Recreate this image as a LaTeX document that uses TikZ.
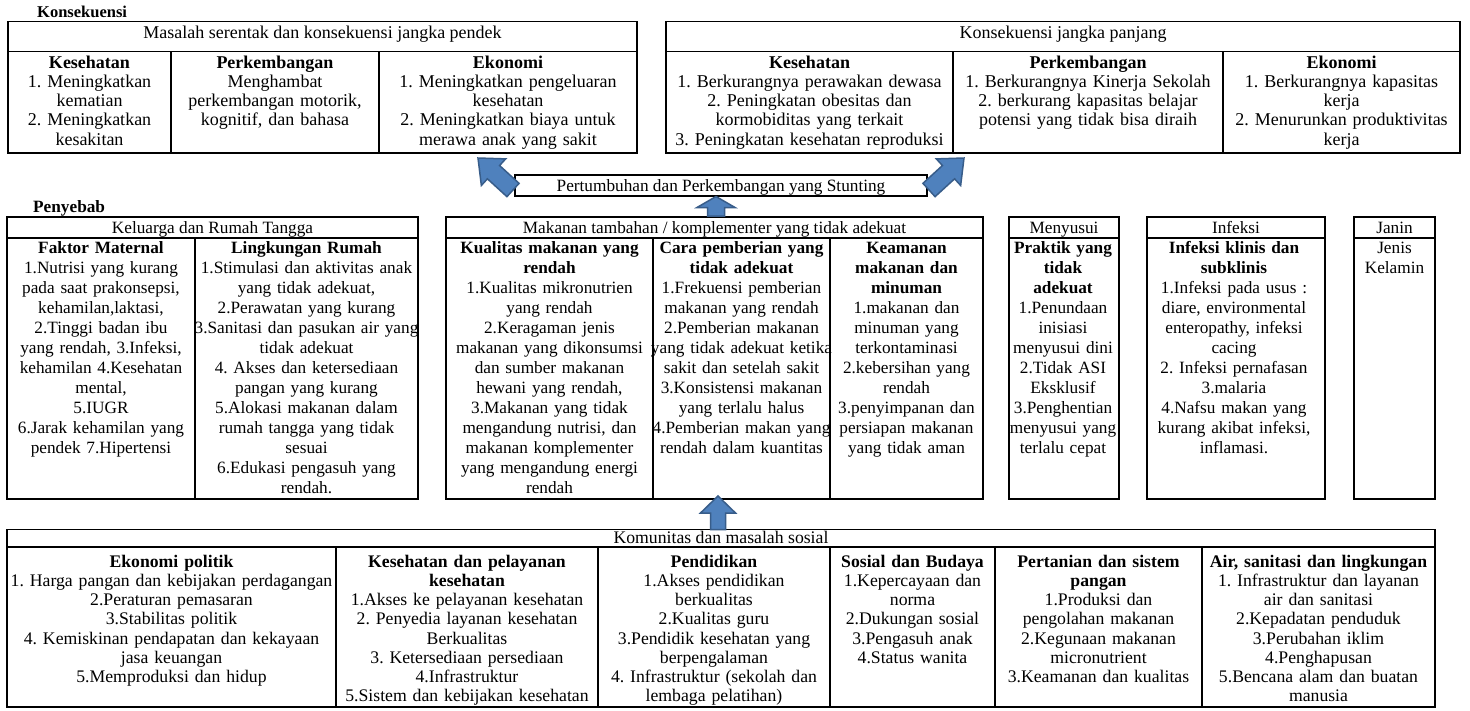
\documentclass[tikz,border=0pt]{standalone}
\usepackage{fontspec}
\setmainfont{Liberation Serif}
\usetikzlibrary{calc}
\frenchspacing
\definecolor{arrowfill}{RGB}{79,129,189}
\definecolor{arrowline}{RGB}{56,93,138}
\newcommand\ftop{\frenchspacing\fontsize{18pt}{19.2pt}\selectfont}
\newcommand\fmid{\frenchspacing\fontsize{17.25pt}{20pt}\selectfont}
\newcommand\fbot{\frenchspacing\fontsize{17.7pt}{19.2pt}\selectfont}
\newcommand\blockarrow[5]{% tail, tip, head length, head half width, shaft half width
  \coordinate (#1-h) at ($(#2)!#3pt!(#1)$);
  \draw[barrow] ($(#1)!#5pt!90:(#2)$) -- ($(#1-h)!#5pt!90:(#2)$) -- ($(#1-h)!#4pt!90:(#2)$) -- (#2)
    -- ($(#1-h)!#4pt!-90:(#2)$) -- ($(#1-h)!#5pt!-90:(#2)$) -- ($(#1)!#5pt!-90:(#2)$) -- cycle;}
\tikzset{
  frame/.style={draw=black, line width=1.2pt},
  lbl/.style={anchor=base, inner sep=0pt},
  celltop/.style={anchor=north, align=center, inner sep=0pt, text width=#1, font=\ftop},
  cellmid/.style={anchor=north, align=center, inner sep=0pt, text width=#1, font=\fmid},
  cellbot/.style={anchor=north, align=center, inner sep=0pt, text width=#1, font=\fbot},
  barrow/.style={fill=arrowfill, draw=arrowline, line width=1.5pt, line join=miter}
}
\begin{document}
\begin{tikzpicture}[x=1pt,y=-1pt]
\useasboundingbox[fill=white] (0,0) rectangle (1470,710);

% ---------------- Konsekuensi ----------------
\node[lbl, anchor=base west, font=\fontsize{16.5pt}{18pt}\selectfont\bfseries] (konsek) at (37,17) {Konsekuensi};

% short term box
\draw[frame] (8,21.7) rectangle (637,153);
\draw[frame] (8,51.7) -- (637,51.7);
\draw[frame] (171,51.7) -- (171,153);
\draw[frame] (379,51.7) -- (379,153);
\node[lbl, font=\ftop] (shortH) at (322.5,38.5) {Masalah serentak dan konsekuensi jangka pendek};
\node[celltop=190pt] (s1) at (89.5,54.6) {\strut\textbf{Kesehatan}\\1. Meningkatkan\\kematian\\2. Meningkatkan\\kesakitan};
\node[celltop=230pt] (s2) at (275,54.6) {\strut\textbf{Perkembangan}\\Menghambat\\perkembangan motorik,\\kognitif, dan bahasa};
\node[celltop=290pt] (s3) at (508,54.6) {\strut\textbf{Ekonomi}\\1. Meningkatkan pengeluaran\\kesehatan\\2. Meningkatkan biaya untuk\\merawa anak yang sakit};

% long term box
\draw[frame] (666,21.7) rectangle (1460,153);
\draw[frame] (666,51.7) -- (1460,51.7);
\draw[frame] (953,51.7) -- (953,153);
\draw[frame] (1223,51.7) -- (1223,153);
\node[lbl, font=\ftop] (longH) at (1063,38.5) {Konsekuensi jangka panjang};
\node[celltop=320pt] (l1) at (809.5,54.6) {\strut\textbf{Kesehatan}\\1. Berkurangnya perawakan dewasa\\2. Peningkatan obesitas dan\\kormobiditas yang terkait\\3. Peningkatan kesehatan reproduksi};
\node[celltop=300pt] (l2) at (1088,54.6) {\strut\textbf{Perkembangan}\\1. Berkurangnya Kinerja Sekolah\\2. berkurang kapasitas belajar\\potensi yang tidak bisa diraih};
\node[celltop=270pt] (l3) at (1341.5,54.6) {\strut\textbf{Ekonomi}\\1. Berkurangnya kapasitas\\kerja\\2. Menurunkan produktivitas\\kerja};

% ---------------- Stunting ----------------
\draw[frame] (515,175) rectangle (927,196);
\node[lbl, font=\fmid] (stunt) at (721,191) {Pertumbuhan dan Perkembangan yang Stunting};

% ---------------- Penyebab ----------------
\node[lbl, anchor=base west, font=\fmid\bfseries] (penyebab) at (33,212) {Penyebab};

% Keluarga
\draw[frame] (7,217) rectangle (418,499);
\draw[frame] (7,238) -- (418,238);
\draw[frame] (195,238) -- (195,499);
\node[lbl, font=\fmid] (kelH) at (212.5,233.5) {Keluarga dan Rumah Tangga};
\node[cellmid=210pt] (k1) at (101,239.5) {\strut\textbf{Faktor Maternal}\\1.Nutrisi yang kurang\\pada saat prakonsepsi,\\kehamilan,laktasi,\\2.Tinggi badan ibu\\yang rendah, 3.Infeksi,\\kehamilan 4.Kesehatan\\mental,\\5.IUGR\\6.Jarak kehamilan yang\\pendek 7.Hipertensi};
\node[cellmid=250pt] (k2) at (306.5,239.5) {\strut\textbf{Lingkungan Rumah}\\1.Stimulasi dan aktivitas anak\\yang tidak adekuat,\\2.Perawatan yang kurang\\3.Sanitasi dan pasukan air yang\\tidak adekuat\\4. Akses dan ketersediaan\\pangan yang kurang\\5.Alokasi makanan dalam\\rumah tangga yang tidak\\sesuai\\6.Edukasi pengasuh yang\\rendah.};

% Makanan
\draw[frame] (446,217) rectangle (983,499);
\draw[frame] (446,238) -- (983,238);
\draw[frame] (653,238) -- (653,499);
\draw[frame] (830,238) -- (830,499);
\node[lbl, font=\fmid] (makH) at (714.5,233.5) {Makanan tambahan / komplementer yang tidak adekuat};
\node[cellmid=230pt] (m1) at (549.5,239.5) {\strut\textbf{Kualitas makanan yang}\\\textbf{rendah}\\1.Kualitas mikronutrien\\yang rendah\\2.Keragaman jenis\\makanan yang dikonsumsi\\dan sumber makanan\\hewani yang rendah,\\3.Makanan yang tidak\\mengandung nutrisi, dan\\makanan komplementer\\yang mengandung energi\\rendah};
\node[cellmid=200pt] (m2) at (741.5,239.5) {\strut\textbf{Cara pemberian yang}\\\textbf{tidak adekuat}\\1.Frekuensi pemberian\\makanan yang rendah\\2.Pemberian makanan\\yang tidak adekuat ketika\\sakit dan setelah sakit\\3.Konsistensi makanan\\yang terlalu halus\\4.Pemberian makan yang\\rendah dalam kuantitas};
\node[cellmid=180pt] (m3) at (906.5,239.5) {\strut\textbf{Keamanan}\\\textbf{makanan dan}\\\textbf{minuman}\\1.makanan dan\\minuman yang\\terkontaminasi\\2.kebersihan yang\\rendah\\3.penyimpanan dan\\persiapan makanan\\yang tidak aman};

% Menyusui
\draw[frame] (1009,217) rectangle (1119,499);
\draw[frame] (1009,238) -- (1119,238);
\node[lbl, font=\fmid] (menH) at (1064,233.5) {Menyusui};
\node[cellmid=140pt] (n1) at (1063,239.5) {\strut\textbf{Praktik yang}\\\textbf{tidak}\\\textbf{adekuat}\\1.Penundaan\\inisiasi\\menyusui dini\\2.Tidak ASI\\Eksklusif\\3.Penghentian\\menyusui yang\\terlalu cepat};

% Infeksi
\draw[frame] (1147,217) rectangle (1325,499);
\draw[frame] (1147,238) -- (1325,238);
\node[lbl, font=\fmid] (infH) at (1236,233.5) {Infeksi};
\node[cellmid=200pt] (i1) at (1234,239.5) {\strut\textbf{Infeksi klinis dan}\\\textbf{subklinis}\\1.Infeksi pada usus :\\diare, environmental\\enteropathy, infeksi\\cacing\\2. Infeksi pernafasan\\3.malaria\\4.Nafsu makan yang\\kurang akibat infeksi,\\inflamasi.};

% Janin
\draw[frame] (1354,217) rectangle (1435,499);
\draw[frame] (1354,238) -- (1435,238);
\node[lbl, font=\fmid] (janH) at (1394.5,233.5) {Janin};
\node[cellmid=100pt] (j1) at (1394.5,239.5) {\strut Jenis\\Kelamin};

% ---------------- Komunitas ----------------
\draw[frame] (7,529.5) rectangle (1435,707);
\draw[frame] (7,547) -- (1435,547);
\foreach \xx in {336,598,830,995,1202} \draw[frame] (\xx,547) -- (\xx,707);
\node[lbl, font=\fbot] (komH) at (721,543.3) {Komunitas dan masalah sosial};
\node[cellbot=360pt] (b1) at (171.5,553.6) {\strut\textbf{Ekonomi politik}\\1. Harga pangan dan kebijakan perdagangan\\2.Peraturan pemasaran\\3.Stabilitas politik\\4. Kemiskinan pendapatan dan kekayaan\\jasa keuangan\\5.Memproduksi dan hidup};
\node[cellbot=290pt] (b2) at (467,553.6) {\strut\textbf{Kesehatan dan pelayanan}\\\textbf{kesehatan}\\1.Akses ke pelayanan kesehatan\\2. Penyedia layanan kesehatan\\Berkualitas\\3. Ketersediaan persediaan\\4.Infrastruktur\\5.Sistem dan kebijakan kesehatan};
\node[cellbot=260pt] (b3) at (714,553.6) {\strut\textbf{Pendidikan}\\1.Akses pendidikan\\berkualitas\\2.Kualitas guru\\3.Pendidik kesehatan yang\\berpengalaman\\4. Infrastruktur (sekolah dan\\lembaga pelatihan)};
\node[cellbot=190pt] (b4) at (912.5,553.6) {\strut\textbf{Sosial dan Budaya}\\1.Kepercayaan dan\\norma\\2.Dukungan sosial\\3.Pengasuh anak\\4.Status wanita};
\node[cellbot=230pt] (b5) at (1098.5,553.6) {\strut\textbf{Pertanian dan sistem}\\\textbf{pangan}\\1.Produksi dan\\pengolahan makanan\\2.Kegunaan makanan\\micronutrient\\3.Keamanan dan kualitas};
\node[cellbot=260pt] (b6) at (1318.5,553.6) {\strut\textbf{Air, sanitasi dan lingkungan}\\1. Infrastruktur dan layanan\\air dan sanitasi\\2.Kepadatan penduduk\\3.Perubahan iklim\\4.Penghapusan\\5.Bencana alam dan buatan\\manusia};

% ---------------- Arrows ----------------
\coordinate (aLt) at (513,190);
\coordinate (aLp) at (478,158);
\coordinate (aRt) at (929,190);
\coordinate (aRp) at (964,158);
\coordinate (aMt) at (716,216);
\coordinate (aMp) at (716,196.5);
\coordinate (aBt) at (718,529.5);
\coordinate (aBp) at (718,496);
\blockarrow{aLt}{aLp}{21}{18}{9}
\blockarrow{aRt}{aRp}{21}{18}{9}
\blockarrow{aMt}{aMp}{11}{19}{8.5}
\blockarrow{aBt}{aBp}{17}{17.5}{7.5}
\end{tikzpicture}
\end{document}
